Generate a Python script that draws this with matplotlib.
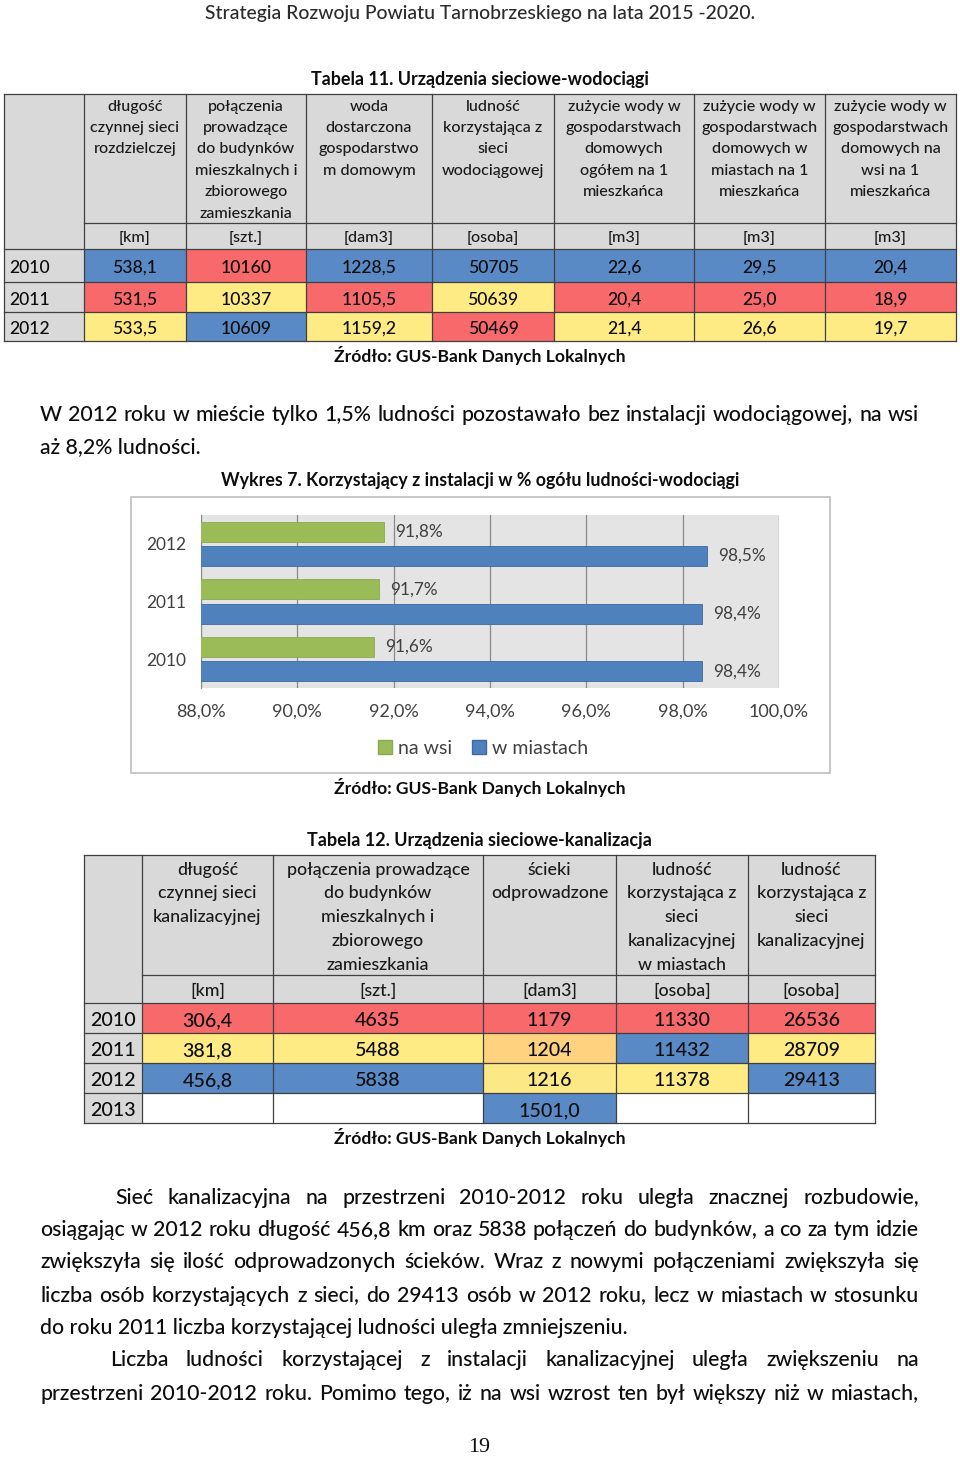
import matplotlib
matplotlib.use('Agg')
import matplotlib.pyplot as plt
from matplotlib.patches import Rectangle, Patch
import numpy as np

FONT = ['Lato', 'DejaVu Sans']
SERIF = ['Liberation Serif', 'DejaVu Serif']
plt.rcParams['font.family'] = FONT

# ------------------------------------------------------------------ DATA
page_header = "Strategia Rozwoju Powiatu Tarnobrzeskiego na lata 2015 -2020."
page_number = "19"
source_text = "Źródło: GUS-Bank Danych Lokalnych"

t11_title = "Tabela 11. Urządzenia sieciowe-wodociągi"
t11_headers = [
    "długość\nczynnej sieci\nrozdzielczej",
    "połączenia\nprowadzące\ndo budynków\nmieszkalnych i\nzbiorowego\nzamieszkania",
    "woda\ndostarczona\ngospodarstwo\nm domowym",
    "ludność\nkorzystająca z\nsieci\nwodociągowej",
    "zużycie wody w\ngospodarstwach\ndomowych\nogółem na 1\nmieszkańca",
    "zużycie wody w\ngospodarstwach\ndomowych w\nmiastach na 1\nmieszkańca",
    "zużycie wody w\ngospodarstwach\ndomowych na\nwsi na 1\nmieszkańca",
]
t11_units = ["[km]", "[szt.]", "[dam3]", "[osoba]", "[m3]", "[m3]", "[m3]"]
t11_years = ["2010", "2011", "2012"]
t11_siec_km = ["538,1", "531,5", "533,5"]
t11_polaczenia = ["10160", "10337", "10609"]
t11_woda_dam3 = ["1228,5", "1105,5", "1159,2"]
t11_ludnosc = ["50705", "50639", "50469"]
t11_zuzycie_ogolem = ["22,6", "20,4", "21,4"]
t11_zuzycie_miasta = ["29,5", "25,0", "26,6"]
t11_zuzycie_wies = ["20,4", "18,9", "19,7"]

para_intro = [
    "W 2012 roku w mieście tylko 1,5% ludności pozostawało bez instalacji wodociągowej, na wsi",
    "aż 8,2% ludności.",
]

chart_title = "Wykres 7. Korzystający z instalacji w % ogółu ludności-wodociągi"
chart_years = ["2010", "2011", "2012"]
chart_na_wsi = [91.6, 91.7, 91.8]
chart_w_miastach = [98.4, 98.4, 98.5]
chart_ticks = [88, 90, 92, 94, 96, 98, 100]
chart_series = ["na wsi", "w miastach"]

t12_title = "Tabela 12. Urządzenia sieciowe-kanalizacja"
t12_headers = [
    "długość\nczynnej sieci\nkanalizacyjnej",
    "połączenia prowadzące\ndo budynków\nmieszkalnych i\nzbiorowego\nzamieszkania",
    "ścieki\nodprowadzone",
    "ludność\nkorzystająca z\nsieci\nkanalizacyjnej\nw miastach",
    "ludność\nkorzystająca z\nsieci\nkanalizacyjnej",
]
t12_units = ["[km]", "[szt.]", "[dam3]", "[osoba]", "[osoba]"]
t12_years = ["2010", "2011", "2012", "2013"]
t12_siec_km = ["306,4", "381,8", "456,8", ""]
t12_polaczenia = ["4635", "5488", "5838", ""]
t12_scieki = ["1179", "1204", "1216", "1501,0"]
t12_ludnosc_miasta = ["11330", "11432", "11378", ""]
t12_ludnosc = ["26536", "28709", "29413", ""]

para_sewer = [
    "Sieć kanalizacyjna na przestrzeni 2010-2012 roku uległa znacznej rozbudowie,",
    "osiągając w 2012 roku długość 456,8 km oraz 5838 połączeń do budynków, a co za tym idzie",
    "zwiększyła się ilość odprowadzonych ścieków. Wraz z nowymi połączeniami zwiększyła się",
    "liczba osób korzystających z sieci, do 29413 osób w 2012 roku, lecz w miastach w stosunku",
    "do roku 2011 liczba korzystającej ludności uległa zmniejszeniu.",
]
para_users = [
    "Liczba ludności korzystającej z instalacji kanalizacyjnej uległa zwiększeniu na",
    "przestrzeni 2010-2012 roku. Pomimo tego, iż na wsi wzrost ten był większy niż w miastach,",
]

# ------------------------------------------------------------------ STYLE
W, H = 960, 1458
GREY = '#d9d9d9'
LINE = '#404040'
TXT = '#0d0d0d'
NORMAL = 500
YOFF = 1.5
RED = np.array([248, 105, 107]) / 255
YEL = np.array([255, 235, 132]) / 255
BLU = np.array([90, 138, 198]) / 255

fig = plt.figure(figsize=(W / 100, H / 100), dpi=100)
ax = fig.add_axes([0, 0, 1, 1])
ax.set_xlim(0, W)
ax.set_ylim(H, 0)
ax.axis('off')
renderer = fig.canvas.get_renderer()


def fit_size(sample, target, weight=NORMAL, family=FONT):
    t = ax.text(0, 0, sample, fontsize=20, family=family, weight=weight)
    w = t.get_window_extent(renderer).width
    t.remove()
    return 20 * target / w


def txt(x, y, s, size, ha='center', weight=NORMAL, color=TXT, family=FONT):
    return ax.text(x, y + YOFF, s, fontsize=size, ha=ha, va='center', weight=weight,
                   color=color, family=family)


def justify(line, x0, x1, y, size):
    words = line.split()
    objs = [txt(0, y, w, size, ha='left') for w in words]
    widths = [o.get_window_extent(renderer).width for o in objs]
    gap = (x1 - x0 - sum(widths)) / (len(words) - 1)
    x = x0
    for o, w in zip(objs, widths):
        o.set_x(x)
        x += w + gap


def scale_colors(col):
    vals = [float(s.replace(',', '.')) if s else None for s in col]
    arr = np.array([v for v in vals if v is not None])
    lo, hi, mid = arr.min(), arr.max(), np.percentile(arr, 50)
    out = []
    for v in vals:
        if v is None:
            out.append('white')
        elif v <= mid:
            t = 0 if mid == lo else (v - lo) / (mid - lo)
            out.append(tuple(RED + (YEL - RED) * t))
        else:
            t = (v - mid) / (hi - mid)
            out.append(tuple(YEL + (BLU - YEL) * t))
    return out


def draw_table(col_x, y_top, y_head, row_y, headers, units, years, columns,
               head_y0, head_dy, head_size, data_size, year_x=None):
    x0, x1 = col_x[0], col_x[-1]
    ax.add_patch(Rectangle((x0, y_top), x1 - x0, row_y[0] - y_top, fc=GREY, ec='none'))
    for r in range(len(years)):
        ax.add_patch(Rectangle((x0, row_y[r]), col_x[1] - x0, row_y[r + 1] - row_y[r],
                               fc=GREY, ec='none'))
    for c, col in enumerate(columns):
        cols = scale_colors(col)
        for r, s in enumerate(col):
            ax.add_patch(Rectangle((col_x[c + 1], row_y[r]), col_x[c + 2] - col_x[c + 1],
                                   row_y[r + 1] - row_y[r], fc=cols[r], ec='none'))
            if s:
                txt((col_x[c + 1] + col_x[c + 2]) / 2, (row_y[r] + row_y[r + 1]) / 2 + 1,
                    s, data_size)
    for r, yr in enumerate(years):
        yc = (row_y[r] + row_y[r + 1]) / 2 + 1
        if year_x is None:
            txt((col_x[0] + col_x[1]) / 2, yc, yr, data_size)
        else:
            txt(year_x, yc, yr, data_size, ha='left')
    for c, hd in enumerate(headers):
        xc = (col_x[c + 1] + col_x[c + 2]) / 2
        for i, ln in enumerate(hd.split('\n')):
            txt(xc, head_y0 + i * head_dy, ln, head_size, color='#1a1a1a')
        txt(xc, (y_head + row_y[0]) / 2, units[c], head_size, color='#1a1a1a')
    for x in col_x:
        ax.plot([x, x], [y_top, row_y[-1]], color=LINE, lw=0.9)
    for y in [y_top] + list(row_y):
        ax.plot([x0, x1], [y, y], color=LINE, lw=0.9)
    ax.plot([col_x[1], x1], [y_head, y_head], color=LINE, lw=0.9)


# ------------------------------------------------------------------ PAGE HEADER
txt(480, 12, page_header, fit_size(page_header, 550), color='#2b2b2b')

# ------------------------------------------------------------------ TABLE 11
txt(480, 78, t11_title, fit_size(t11_title, 337, 'bold'), weight='bold')
draw_table([4, 84, 186, 306, 432, 554, 694, 825, 956], 94, 223, [249, 282, 312, 341],
           t11_headers, t11_units, t11_years,
           [t11_siec_km, t11_polaczenia, t11_woda_dam3, t11_ludnosc,
            t11_zuzycie_ogolem, t11_zuzycie_miasta, t11_zuzycie_wies],
           head_y0=105, head_dy=21.4, head_size=fit_size("gospodarstwach", 116),
           data_size=fit_size("1228,5", 55), year_x=9)
src_size = fit_size(source_text, 290, 'bold')
txt(480, 354, source_text, src_size, weight='bold')

# ------------------------------------------------------------------ PARAGRAPH 1
body_size = fit_size(para_sewer[-1], 588)
justify(para_intro[0], 40, 919, 413, body_size)
txt(40, 446, para_intro[1], body_size, ha='left')

# ------------------------------------------------------------------ CHART
txt(480, 479, chart_title, fit_size(chart_title, 517, 'bold'), weight='bold')
ax.add_patch(Rectangle((131, 497), 699, 276, fc='white', ec='#bdbdbd', lw=1.2))

cax = fig.add_axes([201 / W, 1 - 688 / H, 578 / W, 173 / H])
cax.set_facecolor('#e4e4e4')
ypos = np.arange(len(chart_years))
bh, off = 0.35, 0.21
cax.barh(ypos + off, chart_na_wsi, height=bh, left=0, color='#9bbb59',
         edgecolor='#8aab4c', lw=0.6, zorder=3)
cax.barh(ypos - off, chart_w_miastach, height=bh, left=0, color='#4f81bd',
         edgecolor='#3c6aa3', lw=0.6, zorder=3)
lab_size = fit_size("91,8%", 48, 'normal')
for i in range(len(chart_years)):
    for v, yy in ((chart_na_wsi[i], ypos[i] + off), (chart_w_miastach[i], ypos[i] - off)):
        cax.annotate(f"{v:.1f}%".replace('.', ','), (v, yy), xytext=(8, 0),
                     textcoords='offset points', va='center', ha='left',
                     fontsize=lab_size, color='#404040')
cax.set_xlim(88, 100)
cax.set_ylim(-0.5, len(chart_years) - 0.5)
cax.set_xticks(chart_ticks)
cax.set_xticklabels([f"{t:.1f}%".replace('.', ',') for t in chart_ticks])
cax.set_yticks(ypos)
cax.set_yticklabels(chart_years)
cax.tick_params(axis='x', length=0, pad=11, labelsize=fit_size("88,0%", 50, 'normal'),
                labelcolor='#404040')
cax.tick_params(axis='y', length=0, pad=11, labelsize=fit_size("2012", 40, 'normal'),
                labelcolor='#404040')
cax.grid(axis='x', color='#8a8a8a', lw=0.9, zorder=0)
cax.set_axisbelow(True)
for s in ('top', 'right', 'bottom'):
    cax.spines[s].set_visible(False)
cax.spines['left'].set_color('#8a8a8a')
handles = [Patch(fc='#9bbb59', ec='#8aab4c'), Patch(fc='#4f81bd', ec='#3c6aa3')]
fig.legend(handles, chart_series, loc='center', bbox_to_anchor=(483 / W, 1 - 748 / H),
           ncol=2, frameon=False, fontsize=fit_size("w miastach", 96, 'normal'),
           handlelength=0.75, handleheight=0.75, handletextpad=0.3,
           columnspacing=1.0, labelcolor='#404040')

txt(480, 786, source_text, src_size, weight='bold')

# ------------------------------------------------------------------ TABLE 12
txt(479, 839, t12_title, fit_size(t12_title, 344, 'bold'), weight='bold')
draw_table([84, 142, 273, 483, 616, 748, 875], 855, 975, [1003, 1033, 1063, 1093, 1123],
           t12_headers, t12_units, t12_years,
           [t12_siec_km, t12_polaczenia, t12_scieki, t12_ludnosc_miasta, t12_ludnosc],
           head_y0=868, head_dy=23.8, head_size=fit_size("korzystająca z", 109),
           data_size=fit_size("26536", 57))
txt(480, 1136, source_text, src_size, weight='bold')

# ------------------------------------------------------------------ PARAGRAPHS
ys = [1196, 1229, 1261, 1294, 1327]
for i, (ln, y) in enumerate(zip(para_sewer, ys)):
    if i < len(para_sewer) - 1:
        justify(ln, 115 if i == 0 else 40, 919, y, body_size)
    else:
        txt(40, y, ln, body_size, ha='left')
justify(para_users[0], 110, 919, 1359, body_size)
justify(para_users[1], 40, 919, 1392, body_size)

txt(479, 1446, page_number, fit_size(page_number, 22, 'normal', family=SERIF),
    weight='normal', family=SERIF)

fig.savefig('out.png', dpi=100)
